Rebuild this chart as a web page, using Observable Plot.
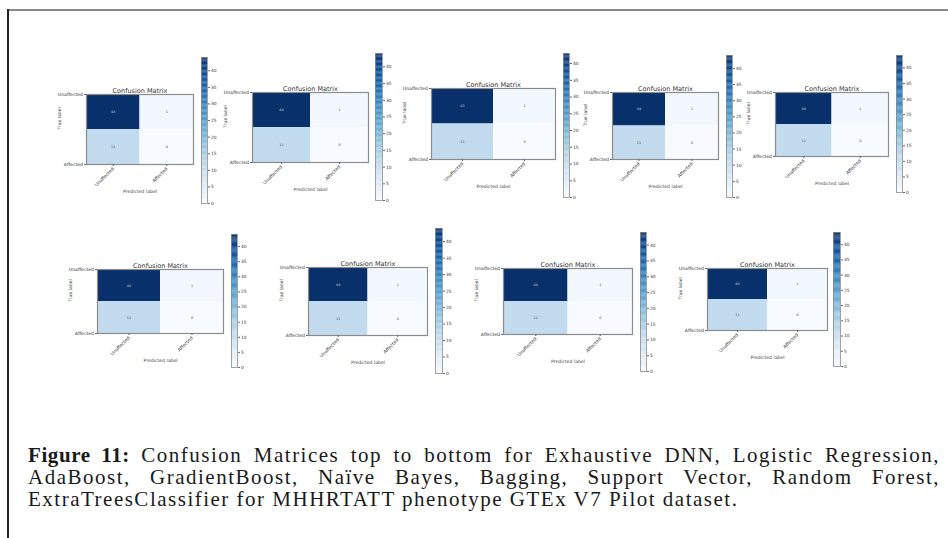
<!DOCTYPE html>
<html>
<head>
<meta charset="utf-8">
<script src="https://cdn.jsdelivr.net/npm/d3@7"></script>
<script src="https://cdn.jsdelivr.net/npm/@observablehq/plot@0.6"></script>
<style>
  html, body { margin: 0; padding: 0; background: #fff; }
  #page { position: relative; width: 948px; height: 538px; overflow: hidden; background: #fff; }
  .topline { position: absolute; left: 7px; top: 9px; width: 941px; height: 2px; background: #8a8a8a; }
  .leftline { position: absolute; left: 7px; top: 9px; width: 1.5px; height: 529px; background: #222; }
  .panel { position: absolute; }
  .panel svg { overflow: visible; }
  .caption { position: absolute; left: 28px; top: 444px; width: 912px; font-family: "Liberation Serif", "DejaVu Serif", serif; font-size: 21px; letter-spacing: 1.5px; line-height: 22px; color: #1a1a1a; }
  .caption div { white-space: nowrap; }
  .caption .j { text-align: justify; text-align-last: justify; white-space: normal; }
  .caption b { letter-spacing: 0.6px; }
</style>
</head>
<body>
<div id="page">
  <div class="topline"></div>
  <div class="leftline"></div>
  <div class="caption">
    <div class="j"><b>Figure 11:</b> Confusion Matrices top to bottom for Exhaustive DNN, Logistic Regression,</div>
    <div class="j">AdaBoost, GradientBoost, Naïve Bayes, Bagging, Support Vector, Random Forest,</div>
    <div>ExtraTreesClassifier for MHHRTATT phenotype GTEx V7 Pilot dataset.</div>
  </div>
</div>
<script>
// ---- data ----
const models = ["Exhaustive DNN", "Logistic Regression", "AdaBoost", "GradientBoost", "Naïve Bayes", "Bagging", "Support Vector", "Random Forest", "ExtraTreesClassifier"];
const classLabels = ["Unaffected", "Affected"];
const trueUnaffPredUnaff = [44, 44, 43, 44, 44, 44, 44, 44, 44];
const trueUnaffPredAff   = [1, 1, 1, 1, 1, 1, 1, 1, 1];
const trueAffPredUnaff   = [11, 11, 11, 11, 11, 11, 11, 11, 11];
const trueAffPredAff     = [0, 0, 0, 0, 0, 0, 0, 0, 0];
const colorbarTicks = [0, 5, 10, 15, 20, 25, 30, 35, 40];
const titleText = "Confusion Matrix";
const xAxisLabel = "Predicted label";
const yAxisLabel = "True label";

// ---- layout (matrix box & colorbar box per panel) ----
const layout = [
  {mx: 86,  my: 94,  mw: 107, mh: 70, cx: 201, cy: 57,  cw: 6, ch: 146},
  {mx: 252, my: 92,  mw: 116, mh: 70, cx: 375, cy: 53,  cw: 7, ch: 147},
  {mx: 431, my: 88,  mw: 124, mh: 71, cx: 563, cy: 53,  cw: 6, ch: 144},
  {mx: 612, my: 92,  mw: 106, mh: 67, cx: 726, cy: 55,  cw: 6, ch: 142},
  {mx: 775, my: 92,  mw: 113, mh: 64, cx: 896, cy: 55,  cw: 6, ch: 137},
  {mx: 97,  my: 269, mw: 126, mh: 64, cx: 231, cy: 234, cw: 6, ch: 133},
  {mx: 308, my: 267, mw: 119, mh: 68, cx: 435, cy: 228, cw: 7, ch: 145},
  {mx: 503, my: 268, mw: 129, mh: 66, cx: 640, cy: 232, cw: 6, ch: 139},
  {mx: 707, my: 268, mw: 120, mh: 62, cx: 833, cy: 232, cw: 7, ch: 134}
];

const page = document.getElementById("page");
const font = "DejaVu Sans";

function place(node, left, top) {
  const d = document.createElement("div");
  d.className = "panel";
  d.style.left = left + "px";
  d.style.top = top + "px";
  d.appendChild(node);
  page.appendChild(d);
}

models.forEach((m, i) => {
  const L = layout[i];
  const cells = [
    {row: 0, col: 0, v: trueUnaffPredUnaff[i]},
    {row: 0, col: 1, v: trueUnaffPredAff[i]},
    {row: 1, col: 0, v: trueAffPredUnaff[i]},
    {row: 1, col: 1, v: trueAffPredAff[i]}
  ];
  const vmin = d3.min(cells, d => d.v);
  const vmax = d3.max(cells, d => d.v);
  const color = {type: "linear", scheme: "blues", domain: [vmin, vmax]};
  const mL = 45, mT = 14, mB = 40, mR = 8;

  const mat = Plot.plot({
    width: L.mw + mL + mR,
    height: L.mh + mT + mB,
    marginLeft: mL, marginTop: mT, marginBottom: mB, marginRight: mR,
    style: {fontFamily: font, fontSize: "4.6px", color: "#333", background: "transparent"},
    x: {domain: [-0.5, 1.5]},
    y: {domain: [-0.5, 1.5], reverse: true},
    color,
    marks: [
      Plot.rect(cells, {x1: d => d.col - 0.5, x2: d => d.col + 0.5, y1: d => d.row - 0.5, y2: d => d.row + 0.5, fill: "v"}),
      Plot.text(cells, {x: "col", y: "row", text: d => String(d.v), fontSize: 3.4,
        fill: d => d.v > (vmin + vmax) / 2 ? "#ccc" : "#444"}),
      Plot.frame({stroke: "#8c8c8c", strokeWidth: 1.2}),
      Plot.axisX({ticks: [0, 1], tickFormat: d => classLabels[d], tickRotate: -45, tickSize: 2, tickPadding: 1.5, label: null, stroke: "#666"}),
      Plot.axisY({ticks: [-0.5, 1.5], tickFormat: d => classLabels[d < 0 ? 0 : 1], tickSize: 2, tickPadding: 1.5, label: null, stroke: "#666"}),
      Plot.text([titleText], {frameAnchor: "top", dy: -6, fontSize: 6.5, fill: "#333", text: d => d}),
      Plot.text([xAxisLabel], {frameAnchor: "bottom", dy: 28, fontSize: 4.6, fill: "#444", text: d => d}),
      Plot.text([yAxisLabel], {frameAnchor: "left", dx: -27, rotate: -90, fontSize: 4.6, fill: "#444", text: d => d})
    ]
  });
  place(mat, L.mx - mL, L.my - mT);

  // colorbar
  const step = (vmax - vmin) / 120;
  const strips = d3.range(vmin, vmax, step);
  const cbL = 1, cbR = 14, cbT = 1, cbB = 3;
  const cb = Plot.plot({
    width: L.cw + cbL + cbR,
    height: L.ch + cbT + cbB,
    marginLeft: cbL, marginRight: cbR, marginTop: cbT, marginBottom: cbB,
    style: {fontFamily: font, fontSize: "4.4px", color: "#333", background: "transparent"},
    x: {domain: [0, 1], axis: null},
    y: {domain: [vmin, vmax]},
    color,
    marks: [
      Plot.rect(strips, {x1: 0, x2: 1, y1: d => d, y2: d => Math.min(vmax, d + step * 1.05), fill: d => d + step / 2}),
      Plot.frame({stroke: "#8c8c8c", strokeWidth: 0.8}),
      Plot.axisY({anchor: "right", ticks: colorbarTicks, tickSize: 2, tickPadding: 1.5, label: null, stroke: "#666"})
    ]
  });
  place(cb, L.cx - cbL, L.cy - cbT);
});
</script>
</body>
</html>
